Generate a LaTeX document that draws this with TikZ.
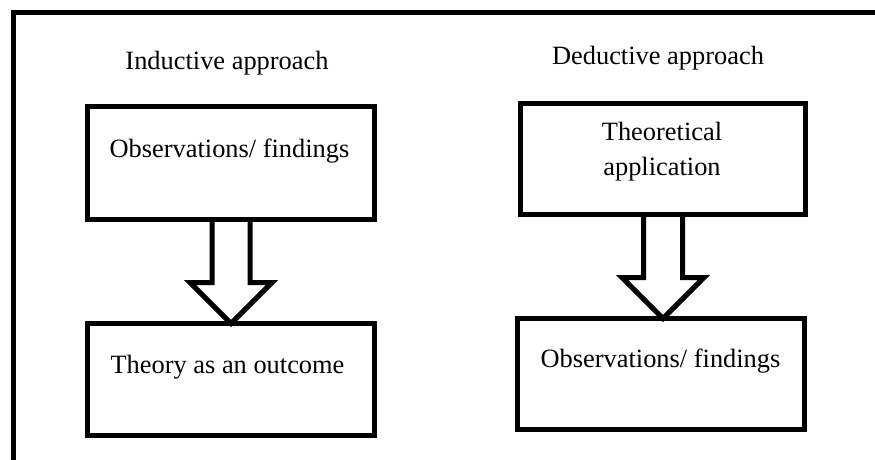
\documentclass[tikz,border=0pt]{standalone}
\usepackage{fontspec}
\setmainfont{Liberation Serif}
\usetikzlibrary{calc}
\pgfdeclarelayer{background}
\pgfsetlayers{background,main}
\begin{document}
\begin{tikzpicture}[x=1pt,y=-1pt,
  every node/.style={font=\fontsize{26.4}{35}\selectfont},
  stagebox/.style={draw, line width=5pt, outer sep=0pt, inner sep=0pt},
  caption/.style={anchor=base, inner sep=0pt, align=center},
  blockarrow/.style={draw, fill=white, line width=5pt, miter limit=10}]
\useasboundingbox (0,0) rectangle (875,460);

% frame (open towards the right and bottom)
\draw[line width=5pt] (13,460) -- (13,12.5) -- (875,12.5);

% inductive approach
\node[caption] (indt) at (227,70) {Inductive approach};
\node[stagebox, minimum width=287pt, minimum height=113pt] (i1) at (231,163) {};
\node[stagebox, minimum width=287pt, minimum height=112pt] (i2) at (231,379.5) {};
\node[caption] (i1t) at (229.5,157) {Observations/ findings};
\node[caption] (i2t) at (227.5,373) {Theory as an outcome};

% deductive approach
\node[caption] (dedt) at (658,65) {Deductive approach};
\node[stagebox, minimum width=285pt, minimum height=111pt] (d1) at (663,159) {};
\node[stagebox, minimum width=287pt, minimum height=111pt] (d2) at (661,374) {};
% base of a two-line node is the baseline of its last line
\node[caption] (d1t) at (662,175) {Theoretical\\application};
\node[caption] (d2t) at (660.5,367) {Observations/ findings};

% hollow arrows between the stages
\path (i1.south |- i2.north) coordinate (itip);
\path (d1.south |- d2.north) coordinate (dtip);
\begin{pgfonlayer}{background}
\draw[blockarrow] ($(i1.south)+(-19,0)$) |- ($(itip)+(-41,-41)$) -- (itip)
  -- ($(itip)+(41,-41)$) -| ($(i1.south)+(19,0)$);
\draw[blockarrow] ($(d1.south)+(-19.5,0)$) |- ($(dtip)+(-41,-41)$) -- (dtip)
  -- ($(dtip)+(41,-41)$) -| ($(d1.south)+(19.5,0)$);
\end{pgfonlayer}
\end{tikzpicture}
\end{document}
